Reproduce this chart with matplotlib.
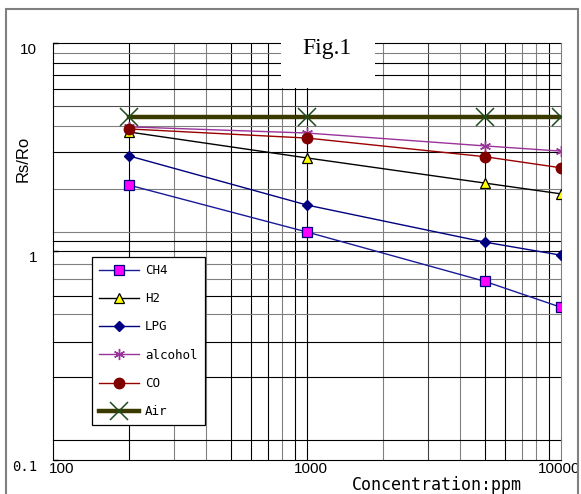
import matplotlib.pyplot as plt
from matplotlib.patches import Rectangle
from matplotlib.transforms import ScaledTranslation

# sensitivity data (Rs/Ro vs ppm)
conc = [200, 1000, 5000, 10000]
ch4 = [2.08, 1.24, 0.72, 0.54]
h2 = [3.74, 2.81, 2.13, 1.89]
lpg = [2.87, 1.67, 1.11, 0.96]
alcohol = [3.96, 3.70, 3.21, 3.03]
co = [3.87, 3.50, 2.85, 2.52]
air = [4.40, 4.40, 4.40, 4.40]

x_ticks = [100, 1000, 10000]
x_tick_labels = ["100", "1000", "10000"]
y_ticks = [0.1, 1, 10]
y_tick_labels = ["0.1", "1", "10"]

# hand drawn grid of the original sheet
vgrid = [200, 300, 400, 500, 600, 700, 800, 900, 1000,
         2000, 3000, 4000, 5000, 6000, 7000, 8000, 9000]
vgrid_col = ["k", "0.5", "0.5", "k", "k", "k", "0.5", "k", "k",
             "0.5", "0.25", "0.5", "k", "k", "0.5", "0.5", "k"]
hgrid = [10, 9, 8, 7, 6, 5, 4, 3, 2, 1.24, 1.12, 1, 0.87, 0.74, 0.61,
         0.5, 0.37, 0.25, 0.125]
hgrid_col = ["k", "0.5", "k", "k", "k", "0.3", "0.5", "k", "0.5", "0.5",
             "k", "k", "0.5", "0.5", "k", "0.5", "k", "k", "k"]

sans = "Liberation Sans"
mono = "DejaVu Sans Mono"

fig = plt.figure(figsize=(5.81, 4.94), dpi=100)
ax = fig.add_axes([53 / 581, 34 / 494, 508 / 581, 417 / 494])
ax.set_xscale("log")
ax.set_yscale("log")
ax.set_xlim(100, 10000)
ax.set_ylim(0.1, 10)

for v, c in zip(vgrid, vgrid_col):
    ax.axvline(v, color=c, lw=0.8, zorder=0.5)
for v, c in zip(hgrid, hgrid_col):
    ax.axhline(v, color=c, lw=0.8, zorder=0.5, clip_on=False)

# white box behind the title
ax.add_patch(Rectangle((0.449, 0.892), 0.185, 0.12, transform=ax.transAxes,
                       facecolor="white", edgecolor="none", zorder=1, clip_on=False))
ax.text(0.539, 0.988, "Fig.1", transform=ax.transAxes, ha="center", va="center",
        fontsize=17, family="Liberation Serif", zorder=3)

ax.plot(conc, ch4, color="#1a1a99", lw=1.0, marker="s", ms=7,
        mfc="#ff00ff", mec="#000080", mew=0.9, label="CH4", zorder=3)
ax.plot(conc, h2, color="black", lw=1.0, marker="^", ms=7,
        mfc="#ffff00", mec="black", mew=0.9, label="H2", zorder=3)
ax.plot(conc, lpg, color="#000080", lw=1.0, marker="D", ms=5.5,
        mfc="#000080", mec="#000080", label="LPG", zorder=3)
ax.plot(conc, alcohol, color="#993399", lw=1.0, marker=(6, 2, 0), ms=8,
        mec="#993399", mew=1.0, label="alcohol", zorder=3)
ax.plot(conc, co, color="#990000", lw=1.0, marker="o", ms=7.5,
        mfc="#800000", mec="#800000", label="CO", zorder=3)
ax.plot(conc, air, color="#3a3a00", lw=3.2, marker="x", ms=13,
        mec="#1f4a1f", mew=1.1, label="Air", zorder=3)

ax.spines["top"].set_visible(False)
ax.spines["right"].set_color("0.5")
ax.spines["left"].set_color("black")
ax.spines["bottom"].set_color("black")

ax.set_xticks(x_ticks)
ax.set_xticklabels(x_tick_labels, fontsize=11, family=sans)
ax.set_yticks(y_ticks)
ax.set_yticklabels(y_tick_labels, fontsize=11, family=sans)
ax.minorticks_off()
ax.tick_params(axis="x", length=0, pad=1.5)
ax.tick_params(axis="y", direction="in", length=3.6, width=1, pad=11.5)

for lab, dx in zip(ax.get_xticklabels(), [9, 4, -2]):
    lab.set_transform(lab.get_transform() + ScaledTranslation(dx / 100, 0, fig.dpi_scale_trans))
for lab in ax.get_yticklabels():
    lab.set_transform(lab.get_transform() + ScaledTranslation(0, -5 / 100, fig.dpi_scale_trans))
ax.get_yticklabels()[0].set_family(mono)
ax.get_yticklabels()[0].set_fontsize(10)

fig.text(23.5 / 581, 1 - 159 / 494, "Rs/Ro", rotation=90, ha="center", va="center",
         fontsize=12, family=sans)
fig.text(437 / 581, 1 - 485 / 494, "Concentration:ppm", ha="center", va="center",
         fontsize=12, family=mono)

leg = ax.legend(loc="upper left", bbox_to_anchor=(92 / 581, 1 - 257 / 494),
                bbox_transform=fig.transFigure, prop={"family": mono, "size": 9},
                frameon=True, fancybox=False, framealpha=1, edgecolor="black",
                borderaxespad=0, borderpad=0.55, handlelength=3.2,
                handletextpad=0.5, labelspacing=1.22)
leg.get_frame().set_linewidth(0.9)
leg.set_zorder(5)

# outer frame of the figure
fig.patches.append(Rectangle((6 / 581, -0.05), 572 / 581, (485 / 494) + 0.05,
                             transform=fig.transFigure, fill=False,
                             edgecolor="0.5", lw=1.5))

fig.savefig("out.png", dpi=100)
